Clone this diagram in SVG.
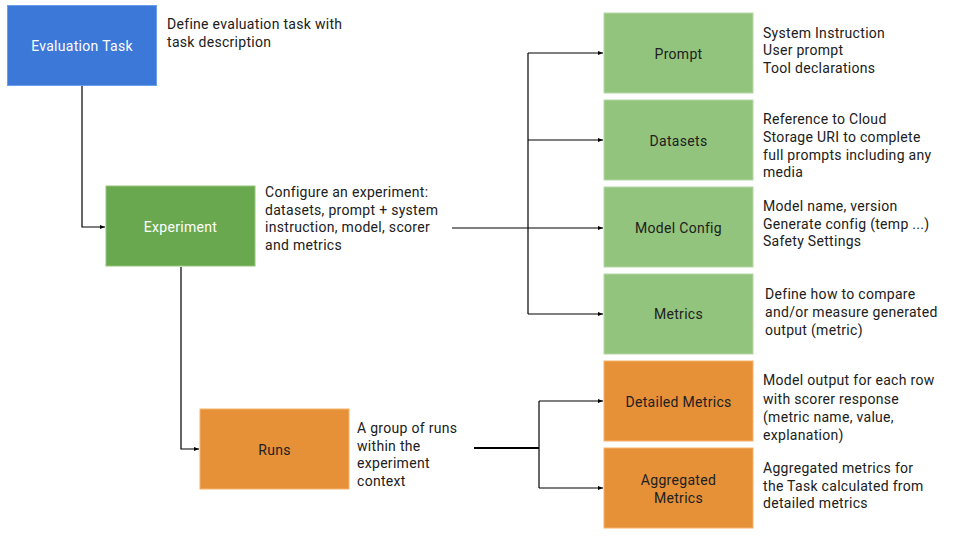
<svg xmlns="http://www.w3.org/2000/svg" width="960" height="540" viewBox="0 0 960 540">
<style>
  text { font-family: Roboto, "Liberation Sans", sans-serif; font-size: 14px; fill: #202020; letter-spacing: 0.3px; }
  .lbl { text-anchor: middle; }
  .w { fill: #ffffff; }
  .blue { fill: #3c78d8; stroke: #6d9eeb; stroke-width: 1; }
  .green { fill: #6aa84f; stroke: #93c47d; stroke-width: 1; }
  .lgreen { fill: #93c47d; stroke: #b6d7a8; stroke-width: 1; }
  .orange { fill: #e69138; stroke: #f6b26b; stroke-width: 1; }
  .conn { fill: none; stroke: #000000; stroke-width: 1.2; }
</style>
<defs>
  <marker id="arr" viewBox="0 0 10 10" refX="10" refY="5" markerWidth="5" markerHeight="5" orient="auto" markerUnits="userSpaceOnUse">
    <path d="M0,1 L10,5 L0,9 z" fill="#000000"/>
  </marker>
</defs>
<rect width="960" height="540" fill="#ffffff"/>

<g id="connectors">
  <path class="conn" d="M82,86 V227 H105" marker-end="url(#arr)"/>
  <path class="conn" d="M181,267 V449 H199" marker-end="url(#arr)"/>
  <path class="conn" d="M452,228 H603" marker-end="url(#arr)"/>
  <path class="conn" d="M528,53 V314"/>
  <path class="conn" d="M528,53 H603" marker-end="url(#arr)"/>
  <path class="conn" d="M528,140 H603" marker-end="url(#arr)"/>
  <path class="conn" d="M528,314 H603" marker-end="url(#arr)"/>
  <path class="conn" d="M474,448 H539" style="stroke-width:2"/>
  <path class="conn" d="M539,401 V488"/>
  <path class="conn" d="M539,401 H603" marker-end="url(#arr)"/>
  <path class="conn" d="M539,488 H603" marker-end="url(#arr)"/>
</g>

<g id="evaluation-task">
  <rect class="blue" x="7.5" y="5.5" width="149" height="80"/>
  <text class="lbl w" x="82" y="51">Evaluation Task</text>
  <text x="167" y="29">Define evaluation task with</text>
  <text x="167" y="47">task description</text>
</g>

<g id="experiment">
  <rect class="green" x="106" y="186" width="149" height="80"/>
  <text class="lbl w" x="180.5" y="232">Experiment</text>
  <text x="265" y="197">Configure an experiment:</text>
  <text x="265" y="215">datasets, prompt + system</text>
  <text x="265" y="232">instruction, model, scorer</text>
  <text x="265" y="250">and metrics</text>
</g>

<g id="runs">
  <rect class="orange" x="200" y="409" width="149" height="80"/>
  <text class="lbl" x="274.5" y="454.5">Runs</text>
  <text x="357" y="433">A group of runs</text>
  <text x="357" y="450.5">within the</text>
  <text x="357" y="468">experiment</text>
  <text x="357" y="486">context</text>
</g>

<g id="prompt">
  <rect class="lgreen" x="604" y="13" width="149" height="80"/>
  <text class="lbl" x="678.5" y="58.5">Prompt</text>
  <text x="763" y="37.5">System Instruction</text>
  <text x="763" y="55">User prompt</text>
  <text x="763" y="73">Tool declarations</text>
</g>

<g id="datasets">
  <rect class="lgreen" x="604" y="100" width="149" height="80"/>
  <text class="lbl" x="678.5" y="145.5">Datasets</text>
  <text x="763" y="123.5">Reference to Cloud</text>
  <text x="763" y="141.5">Storage URI to complete</text>
  <text x="763" y="159.5">full prompts including any</text>
  <text x="763" y="177">media</text>
</g>

<g id="model-config">
  <rect class="lgreen" x="604" y="187" width="149" height="80"/>
  <text class="lbl" x="678.5" y="233">Model Config</text>
  <text x="763" y="211">Model name, version</text>
  <text x="763" y="228.5">Generate config (temp ...)</text>
  <text x="763" y="246">Safety Settings</text>
</g>

<g id="metrics">
  <rect class="lgreen" x="604" y="274" width="149" height="80"/>
  <text class="lbl" x="678.5" y="319">Metrics</text>
  <text x="765" y="298.5">Define how to compare</text>
  <text x="765" y="316.5">and/or measure generated</text>
  <text x="765" y="334.5">output (metric)</text>
</g>

<g id="detailed-metrics">
  <rect class="orange" x="604" y="361" width="149" height="80"/>
  <text class="lbl" x="678.5" y="407">Detailed Metrics</text>
  <text x="763" y="385">Model output for each row</text>
  <text x="763" y="403.5">with scorer response</text>
  <text x="763" y="421.5">(metric name, value,</text>
  <text x="763" y="439.5">explanation)</text>
</g>

<g id="aggregated-metrics">
  <rect class="orange" x="604" y="448" width="149" height="80"/>
  <text class="lbl" x="678.5" y="484.5">Aggregated</text>
  <text class="lbl" x="678.5" y="503">Metrics</text>
  <text x="763" y="473">Aggregated metrics for</text>
  <text x="763" y="490.5">the Task calculated from</text>
  <text x="763" y="508">detailed metrics</text>
</g>
</svg>
